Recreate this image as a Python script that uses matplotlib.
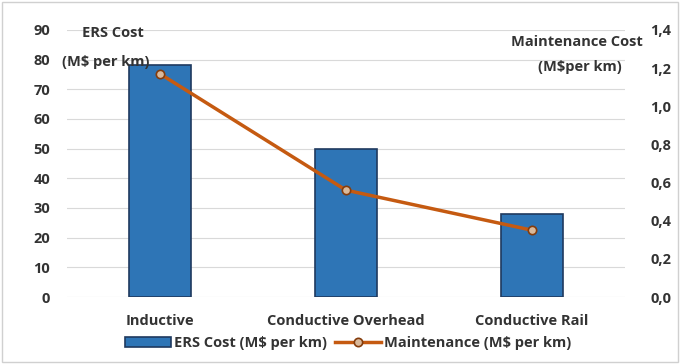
import matplotlib.pyplot as plt
import numpy as np

categories = ["Inductive", "Conductive Overhead", "Conductive Rail"]
ers_cost = [78, 50, 28]
maintenance = [1.17, 0.56, 0.35]
left_ticks = [0, 10, 20, 30, 40, 50, 60, 70, 80, 90]
right_ticks = [0.0, 0.2, 0.4, 0.6, 0.8, 1.0, 1.2, 1.4]

plt.rcParams['font.family'] = ['Open Sans', 'DejaVu Sans']
plt.rcParams['font.weight'] = 'bold'
fs = 10.5
tc = '#333333'

fig = plt.figure(figsize=(6.81, 3.64), dpi=100)
ax = fig.add_axes([0.098, 0.184, 0.82, 0.734])
x = np.arange(len(categories))

ax.bar(x, ers_cost, width=0.33, color='#2E75B6', edgecolor='#1F3A5F', linewidth=1.2,
       label='ERS Cost (M$ per km)', zorder=2)
ax.set_ylim(0, 90)
ax.set_yticks(left_ticks)
ax.set_xlim(-0.5, 2.5)
ax.set_xticks(x)
ax.set_xticklabels(categories, fontsize=fs, color=tc, fontweight='bold')
ax.tick_params(axis='y', labelsize=fs, labelcolor=tc, length=0, pad=12)
ax.tick_params(axis='x', length=0, pad=12)
for t in ax.get_yticklabels():
    t.set_fontweight('bold')
ax.grid(axis='y', color='#D9D9D9', linewidth=0.8, zorder=0)
for s in ax.spines.values():
    s.set_visible(False)

ax2 = ax.twinx()
ax2.plot(x, maintenance, color='#C55A11', linewidth=2.5, marker='o', markersize=6,
         markerfacecolor='#D9B99B', markeredgecolor='#843C0C', markeredgewidth=1.2,
         label='Maintenance (M$ per km)', zorder=3)
ax2.set_ylim(0, 1.4)
ax2.set_yticks(right_ticks)
ax2.set_yticklabels([f"{v:.1f}".replace('.', ',') for v in right_ticks], fontweight='bold')
ax2.tick_params(axis='y', labelsize=fs, labelcolor=tc, length=0, pad=18)
for s in ax2.spines.values():
    s.set_visible(False)

fig.text(0.120, 0.909, "ERS Cost", fontsize=fs, color=tc, va='center', fontweight='bold')
fig.text(0.091, 0.830, "(M$ per km)", fontsize=fs, color=tc, va='center', fontweight='bold')
fig.text(0.944, 0.885, "Maintenance Cost", fontsize=fs, color=tc, va='center', ha='right',
         fontweight='bold')
fig.text(0.913, 0.816, "(M$per km)", fontsize=fs, color=tc, va='center', ha='right',
         fontweight='bold')

h1, l1 = ax.get_legend_handles_labels()
h2, l2 = ax2.get_legend_handles_labels()
fig.legend(h1 + h2, l1 + l2, loc='center', bbox_to_anchor=(0.511, 0.057), ncol=2,
           frameon=False, prop={'size': fs, 'weight': 'bold'}, handlelength=3.2,
           handletextpad=0.2, columnspacing=0.5, labelcolor=tc)

fig.patches.append(plt.Rectangle((0.003, 0.005), 0.992, 0.99, transform=fig.transFigure,
                                 fill=False, edgecolor='#D0D0D0', linewidth=1))

fig.savefig("out.png", dpi=100)
